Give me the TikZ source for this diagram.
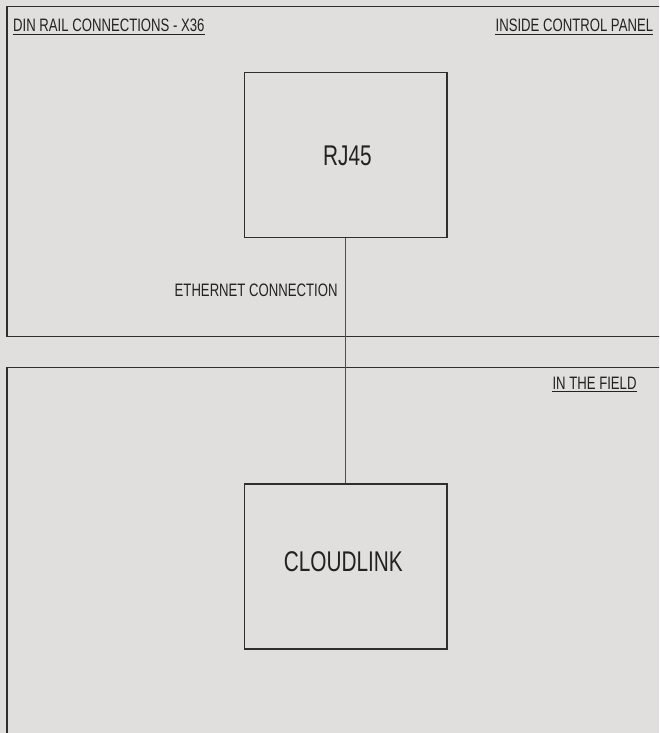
\documentclass[tikz,border=0pt]{standalone}
\usepackage{fontspec}
\setmainfont[FakeStretch=0.73]{Liberation Sans}
\definecolor{bg}{HTML}{E0DFDE}
\definecolor{ln}{HTML}{2E2E2E}
\definecolor{txt}{HTML}{222222}
\begin{document}
\begin{tikzpicture}[x=1pt,y=-1pt,
  panel/.style={draw=ln,line width=1.1pt},
  devbox/.style={draw=ln,line width=1.1pt,rectangle,minimum width=202.3pt,minimum height=165pt,inner sep=0pt},
  small/.style={text=txt,font=\fontsize{18}{18}\selectfont,inner sep=0pt},
  big/.style={text=txt,font=\fontsize{28.5}{28.5}\selectfont,inner sep=0pt},
  uline/.style={draw=txt,line width=1pt},
  wire/.style={draw=ln!85,line width=1pt}]
\fill[bg] (0,0) rectangle (659,733);
\useasboundingbox (0,0) rectangle (659,733);
\clip (0,0) rectangle (659,733);
% panels
\draw[panel] (680,6.3) -- (7,6.3) -- (7,336.6) -- (680,336.6);
\draw[panel] (680,367.6) -- (7,367.6) -- (7,760);
% labels
\node[small,anchor=base west] (din) at (13,31.8) {DIN RAIL CONNECTIONS - X36};
\draw[uline] ([yshift=-2.6pt]din.base west) -- ([yshift=-2.6pt]din.base east);
\node[small,anchor=base east] (icp) at (653.3,31.8) {INSIDE CONTROL PANEL};
\draw[uline] ([yshift=-2.6pt]icp.base west) -- ([yshift=-2.6pt]icp.base east);
\node[small,anchor=base east] (itf) at (636.7,389.2) {IN THE FIELD};
\draw[uline] ([yshift=-2.6pt]itf.base west) -- ([yshift=-2.6pt]itf.base east);
% boxes
\node[devbox] (rj) at (345.85,155.2) {};
\node[big] (rjt) at (347.5,156.3) {RJ45};
\node[devbox] (cl) at (345.85,566.5) {};
\node[big] (clt) at (343.3,561.3) {CLOUDLINK};
% connector
\draw[wire] (rj.south) -- (cl.north);
\node[small,anchor=base east] (eth) at (337.7,296) {ETHERNET CONNECTION};
\end{tikzpicture}
\end{document}
